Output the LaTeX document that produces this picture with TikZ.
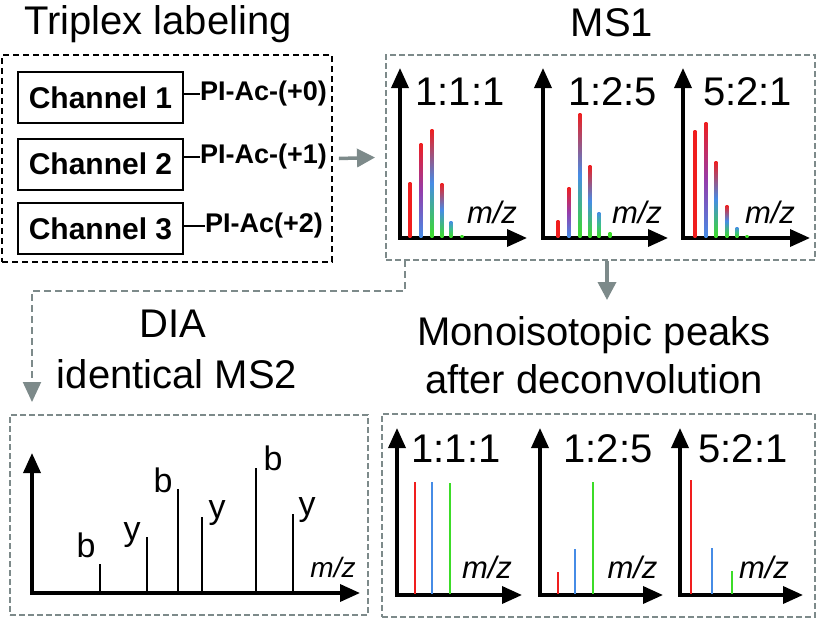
\documentclass[tikz,border=0pt]{standalone}
\usepackage{fontspec}
\setmainfont{Liberation Sans}
\usepackage{tikz}
\usetikzlibrary{arrows.meta,calc,positioning}
\definecolor{boxgray}{RGB}{125,138,138}
\definecolor{pkred}{RGB}{240,30,30}
\definecolor{pkblue}{RGB}{70,140,230}
\definecolor{pkgreen}{RGB}{60,220,40}
\definecolor{pkpurple}{RGB}{150,60,170}
\definecolor{pkteal}{RGB}{60,190,140}
\newcommand{\titlesize}{\fontsize{40}{46}\selectfont}
\newcommand{\ratiosize}{\fontsize{40}{46}\selectfont}
\tikzset{
  blackbox/.style={draw, line width=1.8pt, dash pattern=on 6pt off 4pt, inner sep=0pt},
  graybox/.style={draw=boxgray, line width=2pt, dash pattern=on 6pt off 3pt, inner sep=0pt},
  chbox/.style={draw, line width=2pt, minimum width=165pt, minimum height=51pt, inner sep=0pt,
    font=\fontsize{30}{34}\selectfont\bfseries},
  tag/.style={anchor=west, inner sep=0pt, font=\fontsize{27}{30}\selectfont\bfseries},
  title/.style={anchor=base, inner sep=0pt, font=\titlesize},
  ratio/.style={anchor=base, inner sep=0pt, font=\ratiosize},
  mz/.style={anchor=base, inner sep=0pt, font=\fontsize{31}{34}\selectfont\itshape},
  ion/.style={anchor=base, inner sep=0pt, font=\fontsize{34}{38}\selectfont},
  axis/.style={line width=3.5pt, {Triangle[length=20pt,width=17pt]}-{Triangle[length=20pt,width=17pt]}},
  link/.style={boxgray, line width=3.5pt, -{Triangle[length=18pt,width=18pt]}},
  dashlink/.style={boxgray, line width=2pt, dash pattern=on 7pt off 4pt, -{Triangle[length=20pt,width=18pt]}}
}
\begin{document}
\begin{tikzpicture}[x=1pt,y=-1pt]
  \useasboundingbox (0,0) rectangle (816,619);
  %Titles
  \node[title] (triplex) at (158,34) {Triplex labeling};
  \node[title] (ms1title) at (612,36) {MS1};
  \node[title] (dia) at (173,337) {DIA};
  \node[title] (idms2) at (177,388) {identical MS2};
  \node[title] (mono) at (594,345) {Monoisotopic peaks};
  \node[title] (afterdec) at (594,393) {after deconvolution};
  %Boxes
  \node[blackbox, minimum width=330pt, minimum height=207pt] (tripbox) at (167,158.5) {};
  \node[graybox, minimum width=429pt, minimum height=205pt] (ms1box) at (600.5,157.5) {};
  \node[graybox, minimum width=358pt, minimum height=200pt] (ms2box) at (189,515) {};
  \node[graybox, minimum width=433pt, minimum height=203pt] (decbox) at (598.5,515.5) {};
  %Channels
  \node[chbox] (ch1) at (100.5,97.5) {Channel 1};
  \node[chbox] (ch2) at (100.5,164) {Channel 2};
  \node[chbox] (ch3) at (100.5,228.5) {Channel 3};
  \node[tag] (tag1) at (200,94) {PI-Ac-(+0)};
  \node[tag] (tag2) at (200,157) {PI-Ac-(+1)};
  \node[tag] (tag3) at (205,226) {PI-Ac(+2)};
  \draw[line width=1.5pt] (ch1.east |- tag1.west) -- (tag1.west);
  \draw[line width=1.5pt] (ch2.east |- tag2.west) -- (tag2.west);
  \draw[line width=1.5pt] (ch3.east |- tag3.west) -- (tag3.west);
  %Connectors
  \coordinate (ms1out) at (405,260);
  \coordinate (ms2in) at (32,402);
  \coordinate (decin) at (607,300);
  \draw[link] ([xshift=6pt]tripbox.east) -- ([xshift=-10pt]ms1box.west);
  \draw[link] (ms1box.south -| decin) -- (decin);
  \draw[dashlink] (ms1out) -- ++(0,31) -| (ms2in);
  %MS1 spectra
  \draw[axis] (400,68) |- (527,238);
  \draw[axis] (543,68) |- (668,238);
  \draw[axis] (683,68) |- (810,238);
  \foreach \px/\py/\ca/\cb/\cc in {
      410/182/pkred/pkred/pkred, 421/143/pkred/pkpurple/pkblue, 432/129/pkred/pkblue/pkgreen,
      442/183/pkred/pkblue/pkgreen, 451/221/pkblue/pkteal/pkgreen, 462/235/pkgreen/pkgreen/pkgreen,
      558/220/pkred/pkred/pkred, 569/187/pkred/pkpurple/pkblue, 580/113/pkred/pkblue/pkgreen,
      590/165/pkred/pkblue/pkgreen, 599/212/pkblue/pkteal/pkgreen, 610/232/pkgreen/pkgreen/pkgreen,
      695/130/pkred/pkred/pkred, 706/122/pkred/pkpurple/pkblue, 716/161/pkred/pkblue/pkgreen,
      727/205/pkred/pkblue/pkgreen, 737/227/pkblue/pkteal/pkgreen, 747/235/pkgreen/pkgreen/pkgreen}
    \shade[top color=\ca, bottom color=\cc, middle color=\cb] (\px-1.3,\py) rectangle (\px+1.3,237);
  \node[ratio] (r1a) at (460,105) {1:1:1};
  \node[ratio] (r1b) at (612.5,105) {1:2:5};
  \node[ratio] (r1c) at (747.5,105) {5:2:1};
  \node[mz] (mz1) at (492,223) {m/z};
  \node[mz] (mz2) at (637,223) {m/z};
  \node[mz] (mz3) at (770,223) {m/z};
  %MS2 spectrum
  \draw[axis] (32,453) |- (360,593);
  \foreach \px/\py in {100/564, 147/537, 178/489, 202/517, 256/468, 293/514}
    \draw[line width=1.6pt] (\px,\py) -- (\px,592);
  \node[ion] (ion1) at (86,557) {b};
  \node[ion] (ion2) at (132,540) {y};
  \node[ion] (ion3) at (163,492) {b};
  \node[ion] (ion4) at (217,518) {y};
  \node[ion] (ion5) at (273,470) {b};
  \node[ion] (ion6) at (307,515) {y};
  \node[mz, font=\fontsize{28}{30}\selectfont\itshape] (mz4) at (333,577) {m/z};
  %Deconvoluted spectra
  \draw[axis] (397,428) |- (522,595);
  \draw[axis] (540,428) |- (663,595);
  \draw[axis] (680,428) |- (803,595);
  \foreach \px/\py/\cc in {415/482/pkred, 432/482/pkblue, 450/483/pkgreen,
      558/572/pkred, 575/549/pkblue, 593/482/pkgreen,
      691/480/pkred, 712/548/pkblue, 732/571/pkgreen}
    \draw[line width=2.2pt, \cc] (\px,\py) -- (\px,594);
  \node[ratio] (r2a) at (456,462) {1:1:1};
  \node[ratio] (r2b) at (608,462) {1:2:5};
  \node[ratio] (r2c) at (743,462) {5:2:1};
  \node[mz] (mz5) at (487,578) {m/z};
  \node[mz] (mz6) at (632.5,578) {m/z};
  \node[mz] (mz7) at (764,578) {m/z};
\end{tikzpicture}
\end{document}
